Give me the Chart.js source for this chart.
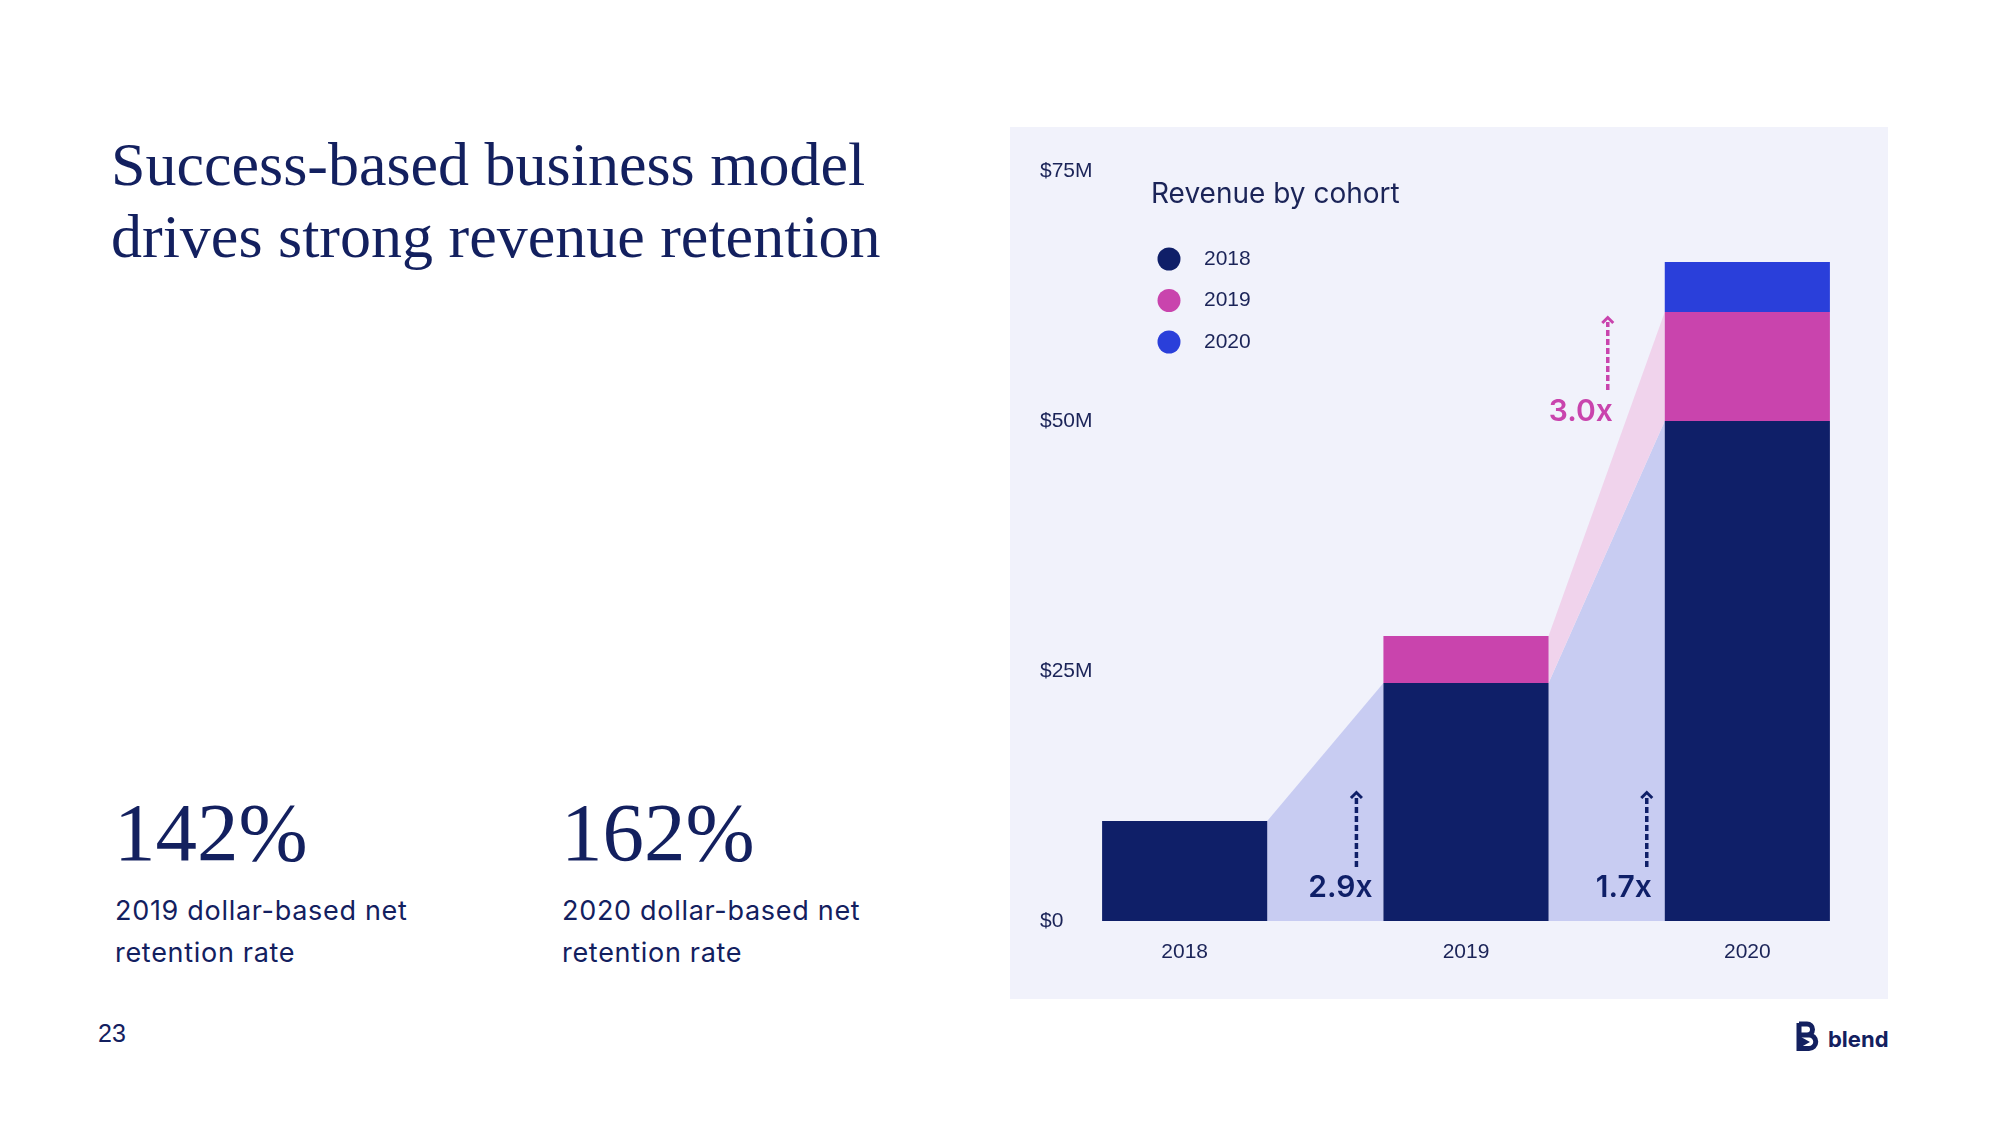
<!DOCTYPE html>
<html>
<head>
<meta charset="utf-8">
<script src="https://cdn.jsdelivr.net/npm/chart.js@4.4.1/dist/chart.umd.min.js"></script>
<style>
  body { margin: 0; width: 2000px; height: 1125px; background: #fff; position: relative; overflow: hidden; color: #13205f; }
  .abs { position: absolute; white-space: nowrap; }
  #title { left: 111px; top: 128px; font: 62px/72px "Liberation Serif", serif; }
  .big { top: 791px; font: 83px/83px "Liberation Serif", serif; }
  .sub { top: 890px; font: 27px/42px Inter, sans-serif; letter-spacing: 0.7px; }
  #page { left: 98px; top: 1021px; font: 25px/25px "Liberation Sans", sans-serif; }
  #logo { left: 1828px; top: 1026px; font: 700 22px/26px Inter, sans-serif; }
  #panel { left: 1010px; top: 127px; width: 878px; height: 872px; background: #f1f2fb; }
</style>
</head>
<body>
<div id="title" class="abs">Success-based business model<br>drives strong revenue retention</div>
<div class="abs big" style="left:114px">142%</div>
<div class="abs big" style="left:561px">162%</div>
<div class="abs sub" style="left:115px">2019 dollar-based net<br>retention rate</div>
<div class="abs sub" style="left:562px">2020 dollar-based net<br>retention rate</div>
<div id="page" class="abs">23</div>
<svg class="abs" style="left:1795px;top:1021px" width="25" height="31" viewBox="0 0 25 31">
  <path d="M4 3 H12 A5.5 5.5 0 0 1 12 14 H4 M4 14 H14 A6.5 6.5 0 0 1 14 27.5 H4 Z M4 2 V29" fill="none" stroke="#13205f" stroke-width="5"/>
  <path d="M6 16 L15 21 L6 26 Z" fill="#13205f"/>
</svg>
<div id="logo" class="abs">blend</div>
<div id="panel" class="abs"><canvas id="chart" width="878" height="872"></canvas></div>

<script>
// data ($M)
const categories = ["2018", "2019", "2020"];
const cohortNames = ["2018", "2019", "2020"];
const cohort2018 = [10.0, 23.8, 50.0];
const cohort2019 = [0, 4.7, 10.9];
const cohort2020 = [0, 0, 5.0];
const yTicks = [0, 25, 50, 75];
const multipliers = ["2.9x", "1.7x", "3.0x"];

const NAVY = "#0f1f68";
const MAGENTA = "#c944ad";
const BLUE = "#2a3fda";
const barColors = [NAVY, MAGENTA, BLUE];
const bandColors = ["#c8ccf2", "#f0d3ec", "#c9d0f5"];
const TEXT = "#1b2458";

// arrows: which gap (after category index), pixel shift from the next bar's left edge, values in $M
const arrows = [
  { gap: 0, dx: -27, from: 5.4, to: 12.9, label: 3.3, labelDx: -16, color: NAVY },
  { gap: 1, dx: -18, from: 5.4, to: 12.9, label: 3.3, labelDx: -23, color: NAVY },
  { gap: 1, dx: -57, from: 53.1, to: 60.4, label: 50.9, labelDx: -27, color: MAGENTA },
];

// shaded bands that link one cohort's segment to the next year's
const bands = {
  id: "bands",
  beforeDatasetsDraw(chart) {
    const ctx = chart.ctx;
    ctx.save();
    chart.data.datasets.forEach((ds, i) => {
      const bars = chart.getDatasetMeta(i).data;
      for (let j = 0; j < bars.length - 1; j++) {
        if (!ds.data[j]) continue;
        const a = bars[j], b = bars[j + 1];
        const ax = a.x + a.width / 2, bx = b.x - b.width / 2;
        ctx.fillStyle = bandColors[i];
        ctx.beginPath();
        ctx.moveTo(ax, a.y);
        ctx.lineTo(bx, b.y);
        ctx.lineTo(bx, b.base);
        ctx.lineTo(ax, a.base);
        ctx.closePath();
        ctx.fill();
      }
    });
    ctx.restore();
  },
  afterDatasetsDraw(chart) {
    const ctx = chart.ctx;
    const y = chart.scales.y;
    const bars = chart.getDatasetMeta(0).data;
    ctx.save();
    arrows.forEach((a, k) => {
      const nb = bars[a.gap + 1];
      const x = nb.x - nb.width / 2 + a.dx;
      const y0 = y.getPixelForValue(a.from), y1 = y.getPixelForValue(a.to);
      ctx.strokeStyle = a.color;
      ctx.fillStyle = a.color;
      ctx.lineWidth = 3.5;
      ctx.setLineDash([6, 3]);
      ctx.beginPath();
      ctx.moveTo(x, y0);
      ctx.lineTo(x, y1 + 5);
      ctx.stroke();
      ctx.setLineDash([]);
      ctx.lineWidth = 3;
      ctx.beginPath();
      ctx.moveTo(x - 5.5, y1 + 6);
      ctx.lineTo(x, y1 + 0.5);
      ctx.lineTo(x + 5.5, y1 + 6);
      ctx.stroke();
      ctx.font = "600 30px Inter";
      ctx.textAlign = "center";
      ctx.textBaseline = "middle";
      ctx.fillText(multipliers[k], x + a.labelDx, y.getPixelForValue(a.label));
    });
    ctx.restore();
  },
  afterDraw(chart) {
    const ctx = chart.ctx;
    ctx.save();
    ctx.fillStyle = TEXT;
    ctx.font = "28px Inter";
    ctx.textBaseline = "alphabetic";
    ctx.fillText("Revenue by cohort", 141, 76);
    chart.data.datasets.forEach((ds, i) => {
      const cy = 132 + i * 41.5;
      ctx.fillStyle = ds.backgroundColor;
      ctx.beginPath();
      ctx.arc(159, cy, 11.5, 0, Math.PI * 2);
      ctx.fill();
      ctx.fillStyle = TEXT;
      ctx.font = "21px 'Liberation Sans'";
      ctx.textBaseline = "middle";
      ctx.fillText(ds.label, 194, cy);
    });
    ctx.restore();
  },
};

const cohortData = [cohort2018, cohort2019, cohort2020];

new Chart(document.getElementById("chart"), {
  type: "bar",
  data: {
    labels: categories,
    datasets: cohortData.map((d, i) => ({
      label: cohortNames[i],
      data: d,
      backgroundColor: barColors[i],
      barPercentage: 0.587,
      categoryPercentage: 1,
    })),
  },
  options: {
    responsive: false,
    devicePixelRatio: 1,
    animation: false,
    layout: { padding: { left: 34, top: 44, right: 0, bottom: 0 } },
    plugins: { legend: { display: false }, tooltip: { enabled: false } },
    scales: {
      x: {
        stacked: true,
        grid: { display: false, drawTicks: false },
        border: { display: false },
        ticks: { color: TEXT, font: { family: "Liberation Sans", size: 21 }, padding: 19 },
        afterFit: (s) => { s.height = 78; },
      },
      y: {
        stacked: true,
        min: 0,
        max: 75,
        grid: { display: false, drawTicks: false },
        border: { display: false },
        afterBuildTicks: (s) => { s.ticks = yTicks.map((v) => ({ value: v })); },
        ticks: {
          mirror: true,
          padding: -4,
          color: TEXT,
          font: { family: "Liberation Sans", size: 21 },
          callback: (v) => "$" + v + (v ? "M" : ""),
        },
        afterFit: (s) => { s.width = 0; },
      },
    },
  },
  plugins: [bands],
});
</script>
</body>
</html>
